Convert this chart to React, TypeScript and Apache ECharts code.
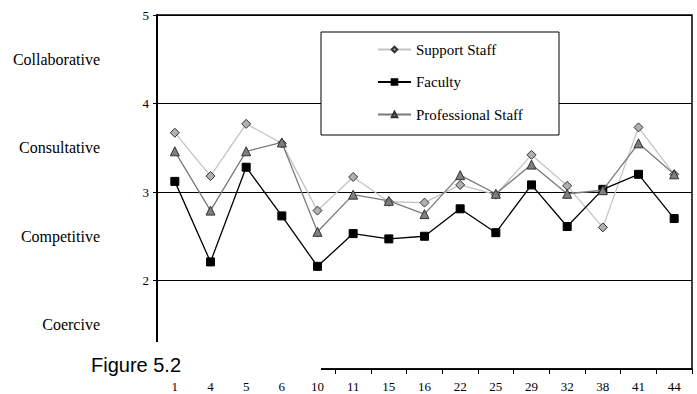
import React, { useEffect, useRef } from "react";
import * as echarts from "echarts";

const categories = ["1", "4", "5", "6", "10", "11", "15", "16", "22", "25", "29", "32", "38", "41", "44"];
const supportStaff = [3.67, 3.18, 3.77, 3.55, 2.79, 3.17, 2.89, 2.88, 3.08, 2.97, 3.42, 3.07, 2.6, 3.73, 3.2];
const faculty = [3.12, 2.21, 3.28, 2.73, 2.16, 2.53, 2.47, 2.5, 2.81, 2.54, 3.08, 2.61, 3.03, 3.2, 2.7];
const professionalStaff = [3.46, 2.79, 3.46, 3.56, 2.55, 2.97, 2.9, 2.75, 3.19, 2.98, 3.31, 2.98, 3.02, 3.55, 3.2];
const seriesNames = ["Support Staff", "Faculty", "Professional Staff"];
const styleLevels = [1.5, 2.5, 3.5, 4.5];
const styleNames = ["Coercive", "Competitive", "Consultative", "Collaborative"];
const figureTitle = "Figure 5.2";

const SERIF = "Liberation Serif, Times New Roman, serif";
const SANS = "Liberation Sans, Arial, sans-serif";

export default function App() {
  const ref = useRef<HTMLDivElement>(null);
  useEffect(() => {
    if (!ref.current) return;
    const chart = echarts.init(ref.current, undefined, { renderer: "svg" });
    chart.setOption({
      animation: false,
      backgroundColor: "#ffffff",
      grid: {
        left: 157,
        right: 5,
        top: 15,
        bottom: 25,
        show: true,
        borderColor: "#000",
        borderWidth: 1.5,
        backgroundColor: "transparent",
      },
      legend: {
        orient: "vertical",
        left: 377,
        top: 42,
        padding: 0,
        itemWidth: 33,
        itemHeight: 7,
        itemGap: 17.5,
        backgroundColor: "transparent",
        borderWidth: 0,
        textStyle: { fontFamily: SERIF, fontSize: 15, color: "#000" },
        data: seriesNames,
      },
      xAxis: {
        type: "category",
        data: categories,
        boundaryGap: true,
        axisLine: { show: true, lineStyle: { color: "#000", width: 1.5 } },
        axisTick: { show: true, alignWithLabel: false, length: 5, lineStyle: { color: "#000" } },
        axisLabel: { fontFamily: SERIF, fontSize: 13, color: "#000", margin: 11, interval: 0 },
        splitLine: { show: false },
      },
      yAxis: [
        {
          type: "value",
          min: 1,
          max: 5,
          interval: 1,
          position: "left",
          axisLine: { show: true, onZero: false, lineStyle: { color: "#000", width: 2 } },
          axisTick: { show: true, length: 4, lineStyle: { color: "#000" } },
          axisLabel: {
            fontFamily: SERIF,
            fontSize: 13,
            color: "#000",
            margin: 8,
            formatter: (v: number) => (v === 1 ? "" : String(v)),
          },
          splitLine: { show: true, lineStyle: { color: "#000", width: 1 } },
        },
        {
          type: "value",
          min: 1,
          max: 5,
          interval: 0.5,
          position: "left",
          offset: 49,
          axisLine: { show: false },
          axisTick: { show: false },
          splitLine: { show: false },
          axisLabel: {
            fontFamily: SERIF,
            fontSize: 16,
            color: "#000",
            margin: 8,
            formatter: (v: number) => {
              const i = styleLevels.indexOf(v);
              return i >= 0 ? styleNames[i] : "";
            },
          },
        },
      ],
      series: [
        {
          name: seriesNames[0],
          type: "line",
          data: supportStaff,
          symbol: "diamond",
          symbolSize: 9,
          lineStyle: { color: "#c4c4c4", width: 1.3 },
          itemStyle: { color: "#b0b0b0", borderColor: "#333", borderWidth: 1 },
          z: 2,
        },
        {
          name: seriesNames[1],
          type: "line",
          data: faculty,
          symbol: "rect",
          symbolSize: 8,
          lineStyle: { color: "#000", width: 1.3 },
          itemStyle: { color: "#000", borderColor: "#000", borderWidth: 1 },
          z: 3,
        },
        {
          name: seriesNames[2],
          type: "line",
          data: professionalStaff,
          symbol: "triangle",
          symbolSize: 9,
          lineStyle: { color: "#7a7a7a", width: 1.3 },
          itemStyle: { color: "#7f7f7f", borderColor: "#333", borderWidth: 1 },
          z: 4,
        },
      ],
      graphic: [
        {
          type: "rect",
          z: 1,
          shape: { x: 321, y: 32, width: 238, height: 103 },
          style: { fill: "#fff", stroke: "#000", lineWidth: 1 },
        },
        {
          type: "rect",
          z: 100,
          shape: { x: 0, y: 342, width: 321, height: 35 },
          style: { fill: "#fff" },
        },
        {
          type: "text",
          z: 101,
          style: {
            x: 91,
            y: 365,
            text: figureTitle,
            font: `20px ${SANS}`,
            fill: "#000",
            verticalAlign: "middle",
          },
        },
      ],
    });
    return () => chart.dispose();
  }, []);
  return (
    <div
      ref={ref}
      style={{ position: "fixed", left: 0, top: 0, width: 697, height: 394, background: "#fff" }}
    />
  );
}
